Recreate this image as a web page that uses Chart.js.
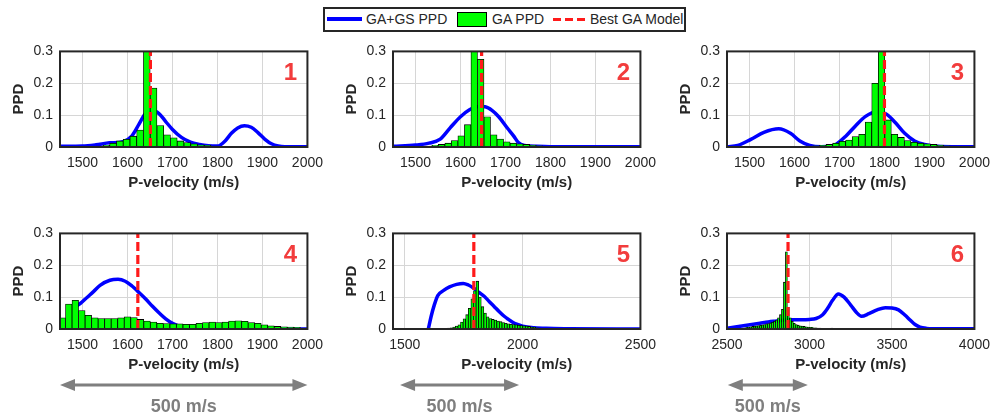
<!DOCTYPE html>
<html>
<head>
<meta charset="utf-8">
<script src="https://cdn.jsdelivr.net/npm/chart.js@4.4.1/dist/chart.umd.min.js"></script>
<style>
  body { margin: 0; background: #fff; width: 998px; height: 420px; overflow: hidden; position: relative;
         font-family: "Liberation Sans", Arial, sans-serif; }
  canvas { position: absolute; }
  #legend { position: absolute; left: 323px; top: 7px; width: 363px; height: 25px; box-sizing: border-box;
            border: 2px solid #262626; background: #fff; }
  #legend .sw { position: absolute; box-sizing: border-box; }
  #legend span { position: absolute; top: 0; line-height: 21px; font-size: 14px; color: #262626; white-space: nowrap; }
</style>
</head>
<body>
<div id="legend">
  <div class="sw" style="left:2px;top:8px;width:35px;height:4px;background:#0000ff"></div>
  <span style="left:41px">GA+GS PPD</span>
  <div class="sw" style="left:132px;top:3px;width:30px;height:15px;background:#00ff00;border:1px solid #000"></div>
  <span style="left:167px">GA PPD</span>
  <div class="sw" style="left:228px;top:9px;width:32px;height:3px;background:repeating-linear-gradient(90deg,#ff1a1a 0 8px,transparent 8px 12px)"></div>
  <span style="left:265px">Best GA Model</span>
</div>
<canvas id="c1" width="331" height="165" style="left:0;top:36px"></canvas>
<canvas id="c2" width="331" height="165" style="left:333px;top:36px"></canvas>
<canvas id="c3" width="331" height="165" style="left:667px;top:36px"></canvas>
<canvas id="c4" width="331" height="202" style="left:0;top:218px"></canvas>
<canvas id="c5" width="331" height="202" style="left:333px;top:218px"></canvas>
<canvas id="c6" width="331" height="202" style="left:667px;top:218px"></canvas>
<script>
// axes of the six panels
const panelNames = ["1", "2", "3", "4", "5", "6"];
const xMin = [1450, 1450, 1450, 1450, 1450, 2500];
const xMax = [2000, 2000, 2000, 2000, 2500, 4000];
const xTicks = [
  [1500, 1600, 1700, 1800, 1900, 2000],
  [1500, 1600, 1700, 1800, 1900, 2000],
  [1500, 1600, 1700, 1800, 1900, 2000],
  [1500, 1600, 1700, 1800, 1900, 2000],
  [1500, 2000, 2500],
  [2500, 3000, 3500, 4000]
];
const yTicks = [0, 0.1, 0.2, 0.3];
const bestModel = [1651, 1647, 1800, 1623, 1793, 2870];
// the "500 m/s" arrows under the bottom row (panels 4, 5, 6)
const arrowFrom = [1450, 1480, 2505];
const arrowTo = [2000, 1985, 2990];

// panel 1
const bins1 = [1538, 1553, 1568, 1583, 1598, 1613, 1628, 1643, 1658, 1673, 1688, 1703, 1718, 1733, 1748, 1763, 1778, 1793, 1808, 1823, 1838, 1853, 1868];
const ga1 = [0.003, 0.005, 0.012, 0.019, 0.024, 0.034, 0.053, 0.34, 0.185, 0.067, 0.038, 0.029, 0.019, 0.014, 0.01, 0.007, 0.005, 0.003, 0.002, 0.001, 0.001, 0.001, 0.001];
const vel1 = [1450, 1500, 1530, 1560, 1590, 1610, 1625, 1640, 1655, 1670, 1685, 1700, 1720, 1740, 1760, 1780, 1800, 1817, 1831, 1845, 1860, 1875, 1890, 1905, 1920, 1935, 1950, 2000];
const gs1 = [0.002, 0.003, 0.007, 0.013, 0.017, 0.035, 0.07, 0.105, 0.115, 0.105, 0.08, 0.055, 0.03, 0.015, 0.008, 0.004, 0.003, 0.019, 0.043, 0.06, 0.067, 0.062, 0.045, 0.025, 0.01, 0.003, 0.001, 0.001];

// panel 2
const bins2 = [1529, 1543.5, 1558, 1572.5, 1587, 1601.5, 1616, 1630.5, 1645, 1659.5, 1674, 1688.5, 1703, 1717.5, 1732, 1746.5, 1761, 1775.5];
const ga2 = [0.003, 0.005, 0.008, 0.012, 0.02, 0.035, 0.07, 0.34, 0.275, 0.095, 0.038, 0.025, 0.016, 0.012, 0.01, 0.008, 0.006, 0.004];
const vel2 = [1450, 1500, 1530, 1555, 1577, 1600, 1620, 1640, 1655, 1670, 1685, 1705, 1718, 1728, 1742, 1770, 1800, 2000];
const gs2 = [0.002, 0.006, 0.012, 0.025, 0.06, 0.095, 0.117, 0.127, 0.126, 0.115, 0.095, 0.058, 0.035, 0.015, 0.005, 0.002, 0.001, 0.001];

// panel 3
const bins3 = [1561.5, 1576, 1590.5, 1605, 1619.5, 1634, 1648.5, 1663, 1677.5, 1692, 1706.5, 1721, 1735.5, 1750, 1764.5, 1779, 1793.5, 1808, 1822.5, 1837, 1851.5, 1866, 1880.5, 1895, 1909.5, 1924, 1938.5, 1953];
const ga3 = [0.001, 0.002, 0.002, 0.002, 0.002, 0.003, 0.004, 0.005, 0.008, 0.012, 0.018, 0.022, 0.033, 0.04, 0.078, 0.2, 0.34, 0.085, 0.04, 0.03, 0.02, 0.015, 0.012, 0.01, 0.008, 0.006, 0.004, 0.003];
const vel3 = [1450, 1474, 1503, 1532, 1565, 1591, 1612, 1634, 1660, 1680, 1692, 1714, 1736, 1758, 1780, 1802, 1824, 1845, 1867, 1889, 1918, 1950, 2000];
const gs3 = [0.001, 0.005, 0.024, 0.046, 0.057, 0.043, 0.019, 0.005, 0.001, 0.002, 0.008, 0.034, 0.067, 0.096, 0.11, 0.105, 0.077, 0.043, 0.019, 0.008, 0.002, 0.001, 0.001];

// panel 4
const bins4 = [1455, 1469.5, 1484, 1498.5, 1513, 1527.5, 1542, 1556.5, 1571, 1585.5, 1600, 1614.5, 1629, 1643.5, 1658, 1672.5, 1687, 1701.5, 1716, 1730.5, 1745, 1759.5, 1774, 1788.5, 1803, 1817.5, 1832, 1846.5, 1861, 1875.5, 1890, 1904.5, 1919, 1933.5, 1948, 1962.5, 1977, 1991.5];
const ga4 = [0.035, 0.078, 0.09, 0.058, 0.043, 0.035, 0.033, 0.033, 0.033, 0.035, 0.038, 0.036, 0.03, 0.025, 0.022, 0.018, 0.017, 0.016, 0.016, 0.015, 0.015, 0.018, 0.02, 0.022, 0.02, 0.022, 0.025, 0.026, 0.024, 0.02, 0.018, 0.013, 0.01, 0.008, 0.007, 0.006, 0.005, 0.003];
const vel4 = [1477, 1495, 1510, 1525, 1539, 1561, 1579, 1595, 1610, 1623, 1640, 1655, 1670, 1685, 1700, 1715, 1735, 1760, 1800, 1900, 2000];
const gs4 = [0.065, 0.08, 0.099, 0.118, 0.137, 0.153, 0.156, 0.15, 0.135, 0.118, 0.095, 0.072, 0.051, 0.032, 0.018, 0.009, 0.004, 0.002, 0.001, 0, 0];

// panel 5
const bins5 = [1665, 1676, 1687, 1698, 1709, 1720, 1731, 1742, 1753, 1764, 1775, 1786, 1797, 1808, 1819, 1830, 1841, 1852, 1863, 1874, 1885, 1896, 1907, 1918, 1929, 1940, 1951, 1962, 1973, 1984, 1995, 2006, 2017, 2028, 2039, 2050, 2061, 2072, 2083, 2094];
const ga5 = [0.001, 0.002, 0.003, 0.004, 0.006, 0.009, 0.013, 0.022, 0.032, 0.045, 0.065, 0.095, 0.12, 0.15, 0.1, 0.07, 0.05, 0.038, 0.033, 0.03, 0.028, 0.025, 0.023, 0.02, 0.018, 0.016, 0.015, 0.014, 0.013, 0.012, 0.011, 0.01, 0.009, 0.008, 0.006, 0.005, 0.004, 0.003, 0.002, 0.001];
const vel5 = [1600, 1612, 1625, 1640, 1665, 1690, 1720, 1748, 1770, 1793, 1815, 1838, 1860, 1880, 1900, 1922, 1940, 1956, 1975, 2000, 2050, 2100, 2200, 2500];
const gs5 = [0, 0.04, 0.075, 0.105, 0.121, 0.132, 0.14, 0.143, 0.138, 0.128, 0.115, 0.102, 0.085, 0.07, 0.055, 0.04, 0.03, 0.022, 0.015, 0.009, 0.004, 0.002, 0.001, 0];

// panel 6
const bins6 = [2596, 2608, 2620, 2632, 2644, 2656, 2668, 2680, 2692, 2704, 2716, 2728, 2740, 2752, 2764, 2776, 2788, 2800, 2812, 2824, 2836, 2848, 2860, 2872, 2884, 2896, 2908, 2920, 2932, 2944, 2956, 2968, 2980, 2992, 3004, 3016, 3028, 3040, 3052, 3064, 3076, 3088, 3100, 3112, 3124, 3136, 3148];
const ga6 = [0.003, 0.004, 0.005, 0.006, 0.007, 0.008, 0.009, 0.01, 0.011, 0.012, 0.013, 0.014, 0.016, 0.017, 0.019, 0.021, 0.024, 0.028, 0.035, 0.045, 0.062, 0.147, 0.242, 0.068, 0.035, 0.024, 0.018, 0.014, 0.012, 0.01, 0.009, 0.008, 0.007, 0.006, 0.005, 0.005, 0.004, 0.004, 0.003, 0.003, 0.002, 0.002, 0.002, 0.001, 0.001, 0.003, 0.001];
const vel6 = [2500, 2550, 2600, 2650, 2700, 2750, 2800, 2850, 2900, 2950, 3000, 3040, 3080, 3110, 3140, 3175, 3210, 3250, 3285, 3315, 3360, 3410, 3460, 3500, 3540, 3580, 3610, 3640, 3670, 3710, 3750, 4000];
const gs6 = [0.002, 0.006, 0.01, 0.014, 0.018, 0.022, 0.025, 0.028, 0.029, 0.029, 0.03, 0.033, 0.045, 0.065, 0.09, 0.11, 0.1, 0.075, 0.052, 0.04, 0.048, 0.06, 0.067, 0.066, 0.06, 0.043, 0.028, 0.014, 0.006, 0.002, 0.001, 0.001];

const FONT = '"Liberation Sans", Arial, sans-serif';
const TEXT = "#262626";
Chart.defaults.font.family = FONT;

function makePanel(i, bins, ga, vel, gs) {
  const bottomRow = i >= 3;

  // box round the axes, red panel number, and the 500 m/s arrow under the bottom row
  const decor = {
    id: "decor",
    afterDraw(chart) {
      const { ctx, chartArea: a } = chart;
      ctx.save();
      ctx.strokeStyle = TEXT;
      ctx.lineWidth = 2;
      ctx.strokeRect(a.left, a.top, a.right - a.left, a.bottom - a.top);

      ctx.fillStyle = "#f23c3c";
      ctx.font = "bold 24px " + FONT;
      ctx.textAlign = "center";
      ctx.textBaseline = "middle";
      ctx.fillText(panelNames[i], a.right - 17, a.top + 22);

      if (bottomRow) {
        const x = chart.scales.x;
        const x0 = x.getPixelForValue(arrowFrom[i - 3]);
        const x1 = x.getPixelForValue(arrowTo[i - 3]);
        const y = 167, head = 15, half = 6;
        ctx.strokeStyle = "#7f7f7f";
        ctx.fillStyle = "#7f7f7f";
        ctx.lineWidth = 3;
        ctx.beginPath();
        ctx.moveTo(x0 + head - 2, y);
        ctx.lineTo(x1 - head + 2, y);
        ctx.stroke();
        ctx.beginPath();
        ctx.moveTo(x0, y); ctx.lineTo(x0 + head, y - half); ctx.lineTo(x0 + head, y + half); ctx.closePath();
        ctx.moveTo(x1, y); ctx.lineTo(x1 - head, y - half); ctx.lineTo(x1 - head, y + half); ctx.closePath();
        ctx.fill();
        ctx.font = "bold 18px " + FONT;
        ctx.fillText("500 m/s", (x0 + x1) / 2, 189);
      }
      ctx.restore();
    }
  };

  new Chart(document.getElementById("c" + (i + 1)), {
    type: "bar",
    data: {
      datasets: [
        {
          type: "line",
          label: "GA+GS PPD",
          data: vel.map((v, k) => ({ x: v, y: gs[k] })),
          borderColor: "#0000ff",
          borderWidth: 3.5,
          pointRadius: 0,
          cubicInterpolationMode: "monotone",
          order: 3
        },
        {
          type: "bar",
          label: "GA PPD",
          data: bins.map((v, k) => ({ x: v, y: ga[k] })),
          backgroundColor: "#00ff00",
          borderColor: "#000000",
          borderWidth: 0.8,
          borderSkipped: false,
          barPercentage: 1,
          categoryPercentage: 1,
          order: 2
        },
        {
          type: "line",
          label: "Best GA Model",
          data: [{ x: bestModel[i], y: 0 }, { x: bestModel[i], y: 0.3 }],
          borderColor: "#ff1a1a",
          borderWidth: 3.2,
          borderDash: [9, 4],
          pointRadius: 0,
          tension: 0,
          order: 1
        }
      ]
    },
    options: {
      responsive: false,
      animation: false,
      layout: { padding: { top: 6, right: 20, bottom: bottomRow ? 37 : 0, left: 0 } },
      plugins: { legend: { display: false }, tooltip: { enabled: false } },
      scales: {
        x: {
          type: "linear",
          min: xMin[i],
          max: xMax[i],
          offset: false,
          grid: { offset: false, color: "#d6d6d6", drawTicks: false },
          border: { display: false },
          afterBuildTicks(s) { s.ticks = xTicks[i].map(v => ({ value: v })); },
          ticks: { autoSkip: false, maxRotation: 0, padding: 8, color: TEXT, font: { size: 14 },
                   callback: v => String(v) },
          title: { display: true, text: "P-velocity (m/s)", color: TEXT,
                   font: { size: 15, weight: "bold" }, padding: { top: 0, bottom: 9 } },
          afterFit(s) { s.height = 54; }
        },
        y: {
          min: 0,
          max: 0.3,
          grid: { color: "#d6d6d6", drawTicks: false },
          border: { display: false },
          afterBuildTicks(s) { s.ticks = yTicks.map(v => ({ value: v })); },
          ticks: { padding: 7, color: TEXT, font: { size: 14 }, callback: v => String(v) },
          title: { display: true, text: "PPD", color: TEXT,
                   font: { size: 15, weight: "bold" }, padding: { top: 10, bottom: 0 } },
          afterFit(s) { s.width = 60; }
        }
      }
    },
    plugins: [decor]
  });
}

makePanel(0, bins1, ga1, vel1, gs1);
makePanel(1, bins2, ga2, vel2, gs2);
makePanel(2, bins3, ga3, vel3, gs3);
makePanel(3, bins4, ga4, vel4, gs4);
makePanel(4, bins5, ga5, vel5, gs5);
makePanel(5, bins6, ga6, vel6, gs6);
</script>
</body>
</html>
